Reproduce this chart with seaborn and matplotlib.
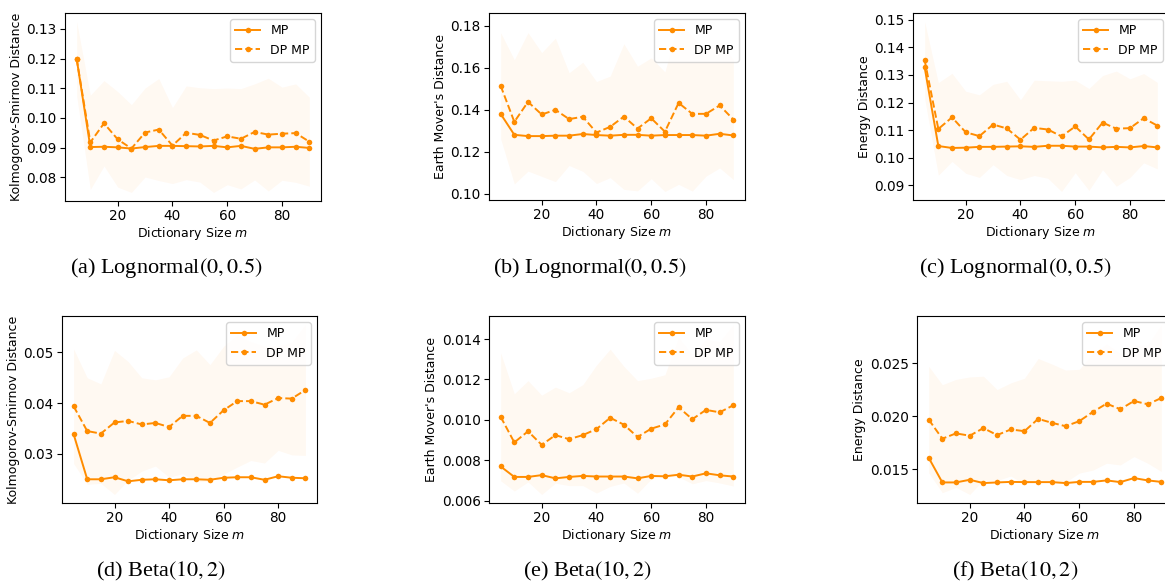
import numpy as np
import pandas as pd
import matplotlib
matplotlib.use("Agg")
import matplotlib.pyplot as plt
import seaborn as sns

# Dictionary sizes
m = [5, 10, 15, 20, 25, 30, 35, 40, 45, 50, 55, 60, 65, 70, 75, 80, 85, 90]

# Lognormal(0, 0.5) — Kolmogorov-Smirnov
ln_ks_mp = [0.1200, 0.0902, 0.0903, 0.0901, 0.0897, 0.0902, 0.0906, 0.0906, 0.0905,
            0.0904, 0.0906, 0.0901, 0.0906, 0.0896, 0.0901, 0.0901, 0.0903, 0.0899]
ln_ks_dp = [0.1200, 0.0918, 0.0982, 0.0928, 0.0897, 0.0951, 0.0961, 0.0907, 0.0950,
            0.0943, 0.0924, 0.0938, 0.0930, 0.0953, 0.0944, 0.0947, 0.0949, 0.0920]
ln_ks_dp_std = [0.0125, 0.0159, 0.0144, 0.0161, 0.0148, 0.0150, 0.0172, 0.0128, 0.0158,
                0.0159, 0.0175, 0.0163, 0.0169, 0.0162, 0.0190, 0.0157, 0.0166, 0.0150]

# Lognormal(0, 0.5) — Earth Mover's
ln_emd_mp = [0.1381, 0.1281, 0.1275, 0.1275, 0.1277, 0.1277, 0.1285, 0.1280, 0.1277,
             0.1281, 0.1281, 0.1277, 0.1280, 0.1280, 0.1280, 0.1277, 0.1286, 0.1278]
ln_emd_dp = [0.1515, 0.1343, 0.1438, 0.1378, 0.1400, 0.1356, 0.1367, 0.1292, 0.1319,
             0.1368, 0.1311, 0.1360, 0.1296, 0.1433, 0.1381, 0.1381, 0.1421, 0.1354]
ln_emd_dp_std = [0.0253, 0.0296, 0.0330, 0.0295, 0.0342, 0.0221, 0.0260, 0.0243, 0.0242,
                 0.0347, 0.0297, 0.0288, 0.0285, 0.0388, 0.0368, 0.0297, 0.0298, 0.0286]

# Lognormal(0, 0.5) — Energy
ln_en_mp = [0.1328, 0.1042, 0.1035, 0.1036, 0.1039, 0.1039, 0.1040, 0.1041, 0.1039,
            0.1043, 0.1043, 0.1040, 0.1040, 0.1037, 0.1039, 0.1037, 0.1042, 0.1037]
ln_en_dp = [0.1354, 0.1104, 0.1146, 0.1092, 0.1078, 0.1120, 0.1106, 0.1065, 0.1108,
            0.1102, 0.1077, 0.1113, 0.1066, 0.1127, 0.1105, 0.1107, 0.1143, 0.1116]
ln_en_dp_std = [0.0140, 0.0168, 0.0160, 0.0149, 0.0150, 0.0146, 0.0171, 0.0145, 0.0173,
                0.0177, 0.0200, 0.0168, 0.0185, 0.0171, 0.0209, 0.0179, 0.0162, 0.0157]

# Beta(10, 2) — Kolmogorov-Smirnov
bt_ks_mp = [0.0339, 0.0250, 0.0250, 0.0254, 0.0246, 0.0249, 0.0250, 0.0248, 0.0250,
            0.0250, 0.0249, 0.0253, 0.0254, 0.0254, 0.0249, 0.0256, 0.0253, 0.0252]
bt_ks_dp = [0.0394, 0.0345, 0.0340, 0.0362, 0.0365, 0.0358, 0.0361, 0.0353, 0.0375,
            0.0375, 0.0361, 0.0386, 0.0404, 0.0404, 0.0397, 0.0410, 0.0409, 0.0426]
bt_ks_dp_std = [0.0113, 0.0105, 0.0098, 0.0142, 0.0117, 0.0092, 0.0085, 0.0099, 0.0114,
                0.0130, 0.0115, 0.0126, 0.0130, 0.0117, 0.0115, 0.0103, 0.0111, 0.0129]

# Beta(10, 2) — Earth Mover's
bt_emd_mp = [0.00769, 0.00717, 0.00717, 0.00726, 0.00710, 0.00717, 0.00722, 0.00719, 0.00719,
             0.00719, 0.00710, 0.00722, 0.00720, 0.00728, 0.00719, 0.00735, 0.00725, 0.00719]
bt_emd_dp = [0.01015, 0.00888, 0.00943, 0.00876, 0.00924, 0.00904, 0.00924, 0.00954, 0.01010,
             0.00976, 0.00915, 0.00956, 0.00977, 0.01062, 0.01003, 0.01049, 0.01037, 0.01072]
bt_emd_dp_std = [0.00317, 0.00241, 0.00251, 0.00246, 0.00238, 0.00230, 0.00250, 0.00317, 0.00340,
                 0.00289, 0.00279, 0.00250, 0.00246, 0.00345, 0.00320, 0.00350, 0.00350, 0.00400]

# Beta(10, 2) — Energy
bt_en_mp = [0.01609, 0.01375, 0.01375, 0.01400, 0.01369, 0.01375, 0.01380, 0.01378, 0.01378,
            0.01378, 0.01369, 0.01380, 0.01380, 0.01394, 0.01378, 0.01416, 0.01394, 0.01380]
bt_en_dp = [0.01969, 0.01788, 0.01838, 0.01816, 0.01888, 0.01822, 0.01875, 0.01859, 0.01975,
            0.01938, 0.01906, 0.01953, 0.02041, 0.02119, 0.02066, 0.02144, 0.02113, 0.02172]
bt_en_dp_std = [0.00503, 0.00510, 0.00510, 0.00555, 0.00490, 0.00430, 0.00440, 0.00500, 0.00570,
                0.00555, 0.00530, 0.00490, 0.00550, 0.00563, 0.00526, 0.00525, 0.00557, 0.00694]

ylabels = ["Kolmogorov-Smirnov Distance", "Earth Mover's Distance", "Energy Distance"]
captions = [r"(a) Lognormal$(0, 0.5)$", r"(b) Lognormal$(0, 0.5)$", r"(c) Lognormal$(0, 0.5)$",
            r"(d) Beta$(10, 2)$", r"(e) Beta$(10, 2)$", r"(f) Beta$(10, 2)$"]

# y tick values for each panel
yticks = [
    [0.08, 0.09, 0.10, 0.11, 0.12, 0.13],
    [0.10, 0.12, 0.14, 0.16, 0.18],
    [0.09, 0.10, 0.11, 0.12, 0.13, 0.14, 0.15],
    [0.03, 0.04, 0.05],
    [0.006, 0.008, 0.010, 0.012, 0.014],
    [0.015, 0.020, 0.025],
]
ytick_fmt = ["{:.2f}", "{:.2f}", "{:.2f}", "{:.2f}", "{:.3f}", "{:.3f}"]

panels = [
    (ln_ks_mp, ln_ks_dp, ln_ks_dp_std, ylabels[0]),
    (ln_emd_mp, ln_emd_dp, ln_emd_dp_std, ylabels[1]),
    (ln_en_mp, ln_en_dp, ln_en_dp_std, ylabels[2]),
    (bt_ks_mp, bt_ks_dp, bt_ks_dp_std, ylabels[0]),
    (bt_emd_mp, bt_emd_dp, bt_emd_dp_std, ylabels[1]),
    (bt_en_mp, bt_en_dp, bt_en_dp_std, ylabels[2]),
]

plt.rcParams["font.family"] = ["DejaVu Sans"]

W, H = 1165, 583
fig = plt.figure(figsize=(W / 100, H / 100), dpi=100)

# axes boxes in pixels: left, top, width, height
boxes = [
    (65, 13, 256, 188), (489, 13, 256, 187), (913, 13, 256, 187),
    (62, 316, 255, 187), (489, 316, 256, 187), (917, 316, 256, 187),
]
caption_pos = [(166, 268), (590, 268), (1015, 268), (161, 571), (587, 571), (1015, 571)]

color = "#ff8c00"
fs_tick = 9.8
fs_lab = 9.0

for i, ((mp, dp, dp_std, ylab), (l, t, w, h), cap, (cx, cy)) in enumerate(
        zip(panels, boxes, captions, caption_pos)):
    ax = fig.add_axes([l / W, 1 - (t + h) / H, w / W, h / H])
    df = pd.DataFrame({"m": m, "MP": mp, "DP MP": dp, "std": dp_std})
    lo = df["DP MP"] - df["std"]
    hi = df["DP MP"] + df["std"]
    ax.fill_between(df["m"], lo, hi, color=color, alpha=0.05, linewidth=0)
    sns.lineplot(data=df, x="m", y="MP", ax=ax, color=color, marker="o", markersize=4,
                 markeredgewidth=0, linewidth=1.4, label="MP")
    sns.lineplot(data=df, x="m", y="DP MP", ax=ax, color=color, marker="o", markersize=4,
                 markeredgewidth=0, linewidth=1.4, linestyle="--", label="DP MP")
    ax.set_xlabel("Dictionary Size $m$", fontsize=fs_lab, labelpad=1.5)
    ax.set_ylabel(ylab, fontsize=fs_lab, labelpad=2.5)
    ax.tick_params(labelsize=fs_tick, length=3.5, width=0.8, pad=2.5)
    ax.set_xticks([20, 40, 60, 80])
    ax.set_yticks(yticks[i])
    ax.set_yticklabels([ytick_fmt[i].format(v) for v in yticks[i]])
    ax.legend(loc="upper right", fontsize=fs_lab, framealpha=0.8)
    for s in ax.spines.values():
        s.set_linewidth(0.8)
    fig.text(cx / W, 1 - cy / H, cap, ha="center", va="center", fontsize=16,
             family=["Liberation Serif"], math_fontfamily="stix")

fig.savefig("out.png", dpi=100)
